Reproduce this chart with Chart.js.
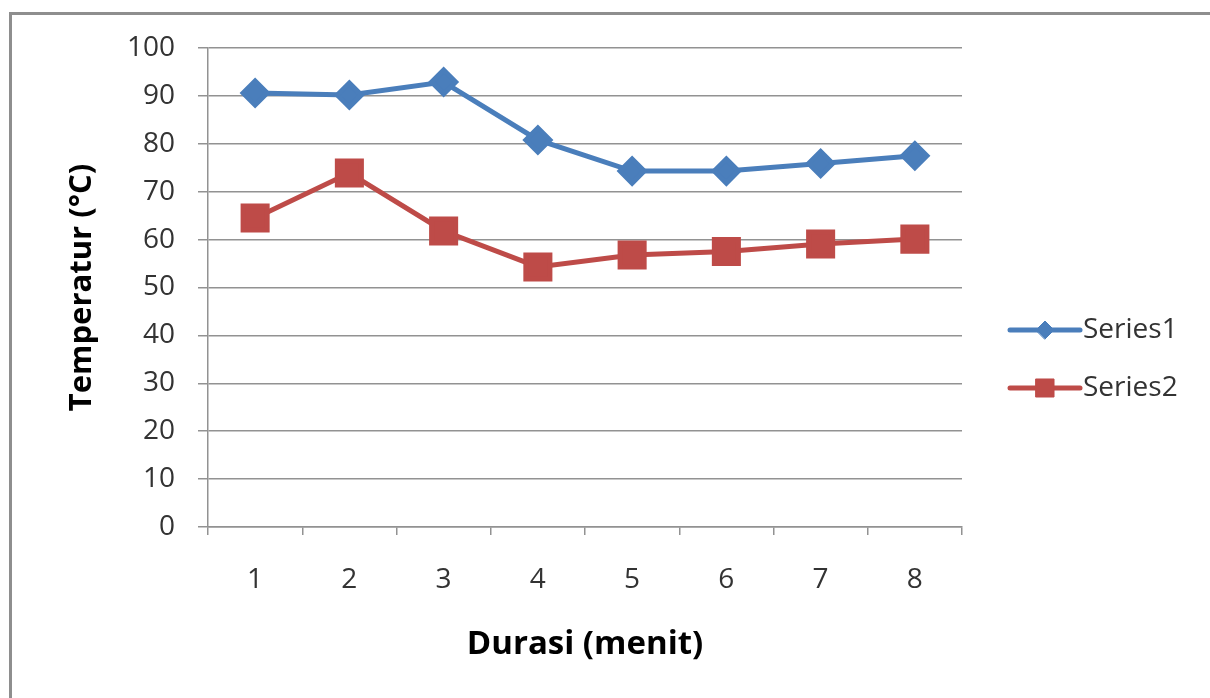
<!DOCTYPE html>
<html>
<head>
<meta charset="utf-8">
<script src="https://cdn.jsdelivr.net/npm/chart.js@4.4.0/dist/chart.umd.min.js"></script>
<style>
  html, body { margin: 0; padding: 0; background: #fff; overflow: hidden; }
  #wrap { position: relative; width: 1210px; height: 698px; }
  #frame { position: absolute; left: 9px; top: 12px; width: 1300px; height: 800px;
           border-top: 3px solid #8e8e8e; border-left: 3px solid #8e8e8e; }
  canvas { position: absolute; left: 0; top: 0; }
</style>
</head>
<body>
<div id="wrap">
  <div id="frame"></div>
  <canvas id="myChart" width="1210" height="698"></canvas>
</div>
<script>
// chart data
var durasi = ["1", "2", "3", "4", "5", "6", "7", "8"];
var series1 = [90.6, 90.2, 92.9, 80.8, 74.3, 74.3, 75.9, 77.5];
var series2 = [64.5, 73.9, 61.8, 54.3, 56.8, 57.5, 59.1, 60.1];
var yTicks = [0, 10, 20, 30, 40, 50, 60, 70, 80, 90, 100];

var blue = "#4a7ebb";
var red = "#be4b48";
var gridColor = "#929292";
var textColor = "#333333";
var fontFamily = "'Open Sans', sans-serif";

// legend drawn as line + marker like the original, to the right of the plot
var lineLegend = {
    id: "lineLegend",
    afterDraw: function (chart) {
        var c = chart.ctx;
        var x0 = 1010, x1 = 1080, textX = 1083;
        var rows = [330, 388];
        chart.data.datasets.forEach(function (ds, i) {
            var y = rows[i];
            c.save();
            c.strokeStyle = ds.borderColor;
            c.lineWidth = ds.borderWidth;
            c.lineCap = "round";
            c.beginPath();
            c.moveTo(x0, y);
            c.lineTo(x1, y);
            c.stroke();
            c.fillStyle = ds.pointBackgroundColor;
            c.strokeStyle = ds.pointBorderColor;
            c.lineWidth = 1;
            Chart.helpers.drawPoint(c, {
                pointStyle: ds.pointStyle,
                radius: ds.pointRadius * 0.75,
                rotation: 0,
                borderWidth: 1
            }, (x0 + x1) / 2, y);
            c.fillStyle = textColor;
            c.font = "28px " + fontFamily;
            c.textAlign = "left";
            c.textBaseline = "middle";
            c.fillText(ds.label, textX, y);
            c.restore();
        });
    }
};

var ctx = document.getElementById("myChart").getContext("2d");

var lineChart = new Chart(ctx, {
    type: "line",
    data: {
        labels: durasi,
        datasets: [
            {
                label: "Series1",
                data: series1,
                borderColor: blue,
                borderWidth: 5,
                pointStyle: "rectRot",
                pointRadius: 12,
                pointBackgroundColor: blue,
                pointBorderColor: blue,
                tension: 0
            },
            {
                label: "Series2",
                data: series2,
                borderColor: red,
                borderWidth: 5,
                pointStyle: "rect",
                pointRadius: 17,
                pointBackgroundColor: red,
                pointBorderColor: red,
                tension: 0
            }
        ]
    },
    options: {
        responsive: false,
        animation: false,
        layout: { padding: { left: 60, top: 48, right: 248, bottom: 0 } },
        plugins: {
            legend: { display: false },
            tooltip: { enabled: false }
        },
        scales: {
            x: {
                offset: true,
                grid: {
                    offset: true,
                    drawOnChartArea: false,
                    drawTicks: true,
                    tickLength: 8,
                    color: gridColor,
                    lineWidth: 1.5
                },
                border: { color: gridColor, width: 1.5 },
                ticks: {
                    color: textColor,
                    padding: 28,
                    font: { size: 28, family: fontFamily }
                },
                title: {
                    display: true,
                    text: "Durasi (menit)",
                    color: "#000",
                    padding: { top: 0, bottom: 34 },
                    font: { size: 33, weight: "bold", family: fontFamily }
                },
                afterFit: function (scale) { scale.height = 171; }
            },
            y: {
                min: 0,
                max: 100,
                afterBuildTicks: function (scale) {
                    scale.ticks = yTicks.map(function (v) { return { value: v }; });
                },
                grid: {
                    color: gridColor,
                    lineWidth: 1.5,
                    tickLength: 10
                },
                border: { color: gridColor, width: 1.5 },
                ticks: {
                    color: textColor,
                    padding: 23,
                    font: { size: 28, family: fontFamily }
                },
                title: {
                    display: true,
                    text: "Temperatur (°C)",
                    color: "#000",
                    padding: { top: 4, bottom: 4 },
                    font: { size: 31, weight: "bold", family: fontFamily }
                },
                afterFit: function (scale) { scale.width = 148; }
            }
        }
    },
    plugins: [lineLegend]
});
</script>
</body>
</html>
